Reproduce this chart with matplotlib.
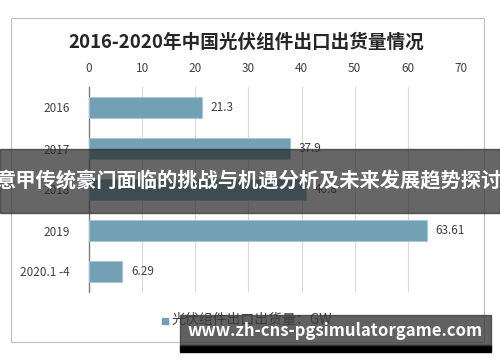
import matplotlib

matplotlib.use("Agg")

import matplotlib.pyplot as plt
from matplotlib.patches import Rectangle

plt.rcParams["font.family"] = ["Noto Sans CJK SC", "DejaVu Sans"]

# data
years = ["2016", "2017", "2018", "2019", "2020.1 -4"]
exports_gw = [21.3, 37.9, 40.8, 63.61, 6.29]
value_labels = ["21.3", "37.9", "40.8", "63.61", "6.29"]
x_ticks = [0, 10, 20, 30, 40, 50, 60, 70]

title = "2016-2020年中国光伏组件出口出货量情况"
legend_label = "光伏组件出口出货量：GW"
banner_text = "意甲传统豪门面临的挑战与机遇分析及未来发展趋势探讨"
watermark = "www.zh-cns-pgsimulatorgame.com"

bar_color = "#72A1B5"
text_color = "#404040"

fig = plt.figure(figsize=(5.0, 3.62), dpi=100)
fig.patch.set_facecolor("white")

# chart frame
fig.patches.append(Rectangle((11 / 500, 1 - 342 / 362), 473 / 500, 324 / 362,
                             transform=fig.transFigure, fill=False,
                             edgecolor="#BFBFBF", linewidth=0.8))

ax = fig.add_axes([89 / 500, 1 - 292 / 362, 372 / 500, 205 / 362])
pos = list(range(len(years)))
ax.barh(pos, exports_gw, height=0.49, color=bar_color, edgecolor="#A9C6D3",
        linewidth=0.6, zorder=3)
for p, v, lab in zip(pos, exports_gw, value_labels):
    ax.text(v + 1.6, p, lab, va="center", ha="left", fontsize=8.5,
            color=text_color, zorder=4)

ax.set_xlim(0, 70)
ax.set_ylim(4.5, -0.5)
ax.set_xticks(x_ticks)
ax.set_yticks(pos)
ax.set_yticklabels(years)
ax.xaxis.tick_top()
ax.tick_params(axis="both", length=0, labelsize=8.5, labelcolor=text_color)
ax.tick_params(axis="x", pad=9)
ax.tick_params(axis="y", pad=14)
ax.grid(axis="x", color="#D9D9D9", linewidth=0.8, zorder=0)
for side in ["top", "right", "bottom"]:
    ax.spines[side].set_visible(False)
ax.spines["left"].set_color("#7F7F7F")
ax.spines["left"].set_linewidth(1.0)

fig.text(0.493, 1 - 42 / 362, title, ha="center", va="center", fontsize=13.4,
         fontweight="bold", color="#262626")

# legend
fig.patches.append(Rectangle((162 / 500, 1 - 324 / 362), 6 / 500, 6 / 362,
                             transform=fig.transFigure, color=bar_color))
fig.text(172 / 500, 1 - 320 / 362, legend_label, ha="left", va="center",
         fontsize=10, color=text_color)

# overlay banner
fig.patches.append(Rectangle((0, 1 - 213 / 362), 1, 64 / 362,
                             transform=fig.transFigure, color="#2b2b2b",
                             alpha=0.72, zorder=5))
fig.text(0.497, 1 - 181 / 362, banner_text, ha="center", va="center",
         fontsize=14.6, fontweight="bold", color="white", zorder=6)

# watermark
fig.patches.append(Rectangle((180 / 500, 1 - 352 / 362), 311 / 500, 7 / 362,
                             transform=fig.transFigure, color="black", zorder=5))
fig.patches.append(Rectangle((180 / 500, 1 - 345 / 362), 311 / 500, 30 / 362,
                             transform=fig.transFigure, color="#3a3a3a",
                             alpha=0.8, zorder=5))
fig.text(335 / 500, 1 - 331 / 362, watermark, ha="center", va="center",
         fontsize=12, fontweight="bold", color="white", zorder=6)

fig.savefig("out.png", dpi=100)
